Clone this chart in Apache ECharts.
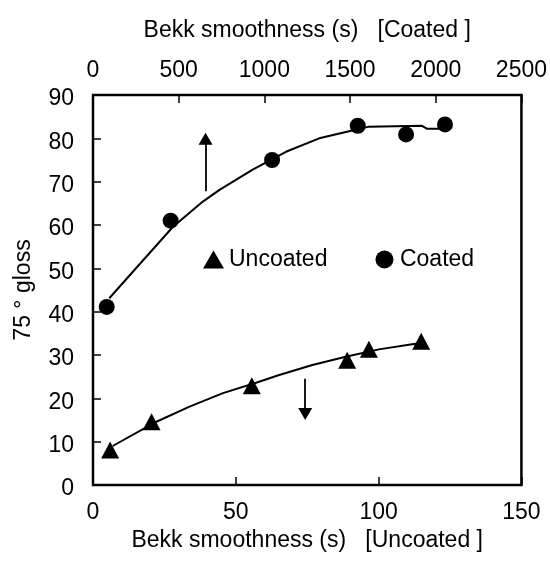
<!DOCTYPE html>
<html>
<head>
<meta charset="utf-8">
<script src="https://cdn.jsdelivr.net/npm/echarts@6/dist/echarts.min.js"></script>
<style>
html, body { margin: 0; padding: 0; background: #fff; }
#gloss { width: 550px; height: 563px; }
</style>
</head>
<body>
<div id="gloss"></div>
<script>
// measured points
var uncoatedX = [6, 20.5, 55.6, 89, 96.6, 114.9];
var uncoatedY = [8.1, 14.6, 22.9, 28.8, 31.3, 33.2];
var coatedX = [80, 453, 1045, 1545, 1827, 2054];
var coatedY = [41.1, 61.0, 75.0, 82.9, 80.9, 83.2];

// fitted curves
var uncoatedFitX = [6.9, 22.2, 33.8, 45.5, 57.1, 65.2, 76.8, 88.5, 100.1, 111.7, 116.4];
var uncoatedFitY = [9.0, 14.6, 18.1, 21.2, 23.6, 25.4, 27.7, 29.6, 31.3, 32.5, 32.8];
var coatedFitX = [95, 273, 467, 641, 738, 932, 1126, 1320, 1513, 1610, 1920, 1950, 2075];
var coatedFitY = [43.1, 51.0, 59.6, 65.4, 68.1, 72.8, 76.9, 80.0, 81.8, 82.7, 82.9, 82.2, 82.2];

var bottomTicks = [0, 50, 100, 150];
var topTicks = [0, 500, 1000, 1500, 2000, 2500];
var glossTicks = [0, 10, 20, 30, 40, 50, 60, 70, 80, 90];

function pairs(xs, ys) {
	var out = [];
	for (var i = 0; i < xs.length; i++) {
		out.push([xs[i], ys[i]]);
	}
	return out;
}

var font = 'Liberation Sans, Arial, sans-serif';
var myChart = echarts.init(document.getElementById('gloss'));
var option = {
	animation: false,
	textStyle: { fontFamily: font, color: '#000' },
	grid: {
		left: 93, right: 27, top: 95, bottom: 78,
		show: true, borderColor: '#000', borderWidth: 2.5, backgroundColor: 'transparent'
	},
	legend: {
		data: ['Uncoated', 'Coated'],
		left: 203,
		top: 248,
		padding: 0,
		itemWidth: 21,
		itemHeight: 18,
		itemGap: 48,
		selectedMode: false,
		textStyle: { fontFamily: font, fontSize: 23, color: '#000' }
	},
	xAxis: [
		{
			type: 'value',
			position: 'bottom',
			min: bottomTicks[0],
			max: bottomTicks[bottomTicks.length - 1],
			interval: 50,
			name: 'Bekk smoothness (s)   [Uncoated ]',
			nameLocation: 'middle',
			nameGap: 38,
			nameTextStyle: { fontFamily: font, fontSize: 23, color: '#000' },
			axisLine: { show: false },
			axisTick: { inside: true, length: 8, lineStyle: { color: '#000', width: 1.5 } },
			axisLabel: { fontFamily: font, fontSize: 23, color: '#000', margin: 16 },
			splitLine: { show: false }
		},
		{
			type: 'value',
			position: 'top',
			min: topTicks[0],
			max: topTicks[topTicks.length - 1],
			interval: 500,
			name: 'Bekk smoothness (s)   [Coated ]',
			nameLocation: 'middle',
			nameGap: 53,
			nameTextStyle: { fontFamily: font, fontSize: 23, color: '#000' },
			axisLine: { show: false },
			axisTick: { inside: true, length: 8, lineStyle: { color: '#000', width: 1.5 } },
			axisLabel: {
				fontFamily: font, fontSize: 23, color: '#000', margin: 13,
				formatter: function (v) { return String(v); }
			},
			splitLine: { show: false }
		}
	],
	yAxis: {
		type: 'value',
		min: glossTicks[0],
		max: glossTicks[glossTicks.length - 1],
		interval: 10,
		name: '75 ° gloss',
		nameLocation: 'middle',
		nameGap: 58,
		nameTextStyle: { fontFamily: font, fontSize: 23, color: '#000' },
		axisLine: { show: false },
		axisTick: { inside: true, length: 8, lineStyle: { color: '#000', width: 1.5 } },
		axisLabel: {
			fontFamily: font, fontSize: 23, color: '#000', margin: 19,
			verticalAlign: 'top', lineHeight: 8
		},
		splitLine: { show: false }
	},
	series: [
		{
			type: 'line',
			xAxisIndex: 0,
			data: pairs(uncoatedFitX, uncoatedFitY),
			smooth: false,
			showSymbol: false,
			silent: true,
			lineStyle: { color: '#000', width: 2 }
		},
		{
			type: 'line',
			xAxisIndex: 1,
			data: pairs(coatedFitX, coatedFitY),
			smooth: false,
			showSymbol: false,
			silent: true,
			lineStyle: { color: '#000', width: 2 }
		},
		{
			name: 'Uncoated',
			type: 'scatter',
			xAxisIndex: 0,
			symbol: 'triangle',
			symbolSize: [18, 17],
			itemStyle: { color: '#000', opacity: 1 },
			data: pairs(uncoatedX, uncoatedY),
			markLine: {
				silent: true,
				symbol: ['none', 'triangle'],
				symbolSize: [14, 12],
				label: { show: false },
				lineStyle: { color: '#000', width: 1.8, type: 'solid' },
				data: [
					[{ coord: [39.4, 67.8] }, { coord: [39.4, 79.9] }],
					[{ coord: [74.3, 24.5] }, { coord: [74.3, 16.4] }]
				]
			}
		},
		{
			name: 'Coated',
			type: 'scatter',
			xAxisIndex: 1,
			symbol: 'circle',
			symbolSize: 16,
			itemStyle: { color: '#000', opacity: 1 },
			data: pairs(coatedX, coatedY)
		}
	]
};
myChart.setOption(option);
</script>
</body>
</html>
